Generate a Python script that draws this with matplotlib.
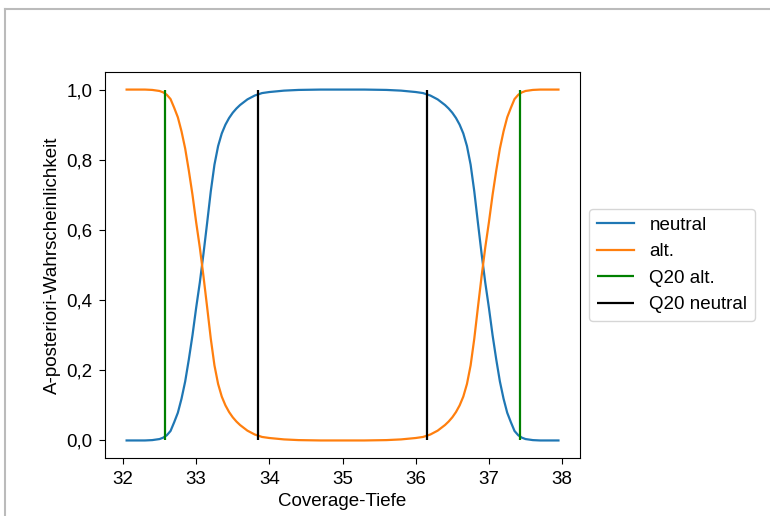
import matplotlib
matplotlib.use("Agg")
import matplotlib.pyplot as plt
from matplotlib.lines import Line2D

plt.rcParams['font.family'] = ['Liberation Sans', 'DejaVu Sans']

# coverage depth grid and posterior values
depth = [32.05, 32.2, 32.3, 32.4, 32.5, 32.55, 32.6, 32.65, 32.7, 32.75,
         32.8, 32.85, 32.9, 32.95, 33.0, 33.05, 33.1, 33.15, 33.2, 33.25,
         33.3, 33.35, 33.4, 33.45, 33.5, 33.55, 33.6, 33.7, 33.8, 33.9,
         34.0, 34.2, 34.4, 34.7, 35.0, 35.3, 35.6, 35.8, 36.0, 36.1,
         36.2, 36.3, 36.4, 36.45, 36.5, 36.55, 36.6, 36.65, 36.7, 36.75,
         36.8, 36.85, 36.9, 36.95, 37.0, 37.05, 37.1, 37.15, 37.2, 37.25,
         37.3, 37.35, 37.4, 37.45, 37.5, 37.6, 37.7, 37.8, 37.95]

neutral = [0.000, 0.000, 0.000, 0.001, 0.004, 0.008, 0.015, 0.027, 0.052, 0.079,
           0.119, 0.168, 0.231, 0.300, 0.378, 0.450, 0.532, 0.620, 0.710, 0.786,
           0.839, 0.875, 0.900, 0.919, 0.934, 0.946, 0.956, 0.972, 0.983, 0.990,
           0.993, 0.997, 0.999, 1.000, 1.000, 1.000, 0.999, 0.997, 0.993, 0.990,
           0.983, 0.972, 0.956, 0.946, 0.934, 0.919, 0.900, 0.875, 0.839, 0.786,
           0.710, 0.620, 0.532, 0.450, 0.378, 0.300, 0.231, 0.168, 0.119, 0.079,
           0.052, 0.027, 0.015, 0.008, 0.004, 0.001, 0.000, 0.000, 0.000]

alt = [1.000, 1.000, 1.000, 0.999, 0.996, 0.992, 0.985, 0.973, 0.948, 0.921,
       0.881, 0.832, 0.769, 0.700, 0.622, 0.550, 0.468, 0.380, 0.290, 0.214,
       0.161, 0.125, 0.100, 0.081, 0.066, 0.054, 0.044, 0.028, 0.017, 0.010,
       0.007, 0.003, 0.001, 0.000, 0.000, 0.000, 0.001, 0.003, 0.007, 0.010,
       0.017, 0.028, 0.044, 0.054, 0.066, 0.081, 0.100, 0.125, 0.161, 0.214,
       0.290, 0.380, 0.468, 0.550, 0.622, 0.700, 0.769, 0.832, 0.881, 0.921,
       0.948, 0.973, 0.985, 0.992, 0.996, 0.999, 1.000, 1.000, 1.000]

q20_alt = [32.57, 37.43]
q20_neutral = [33.85, 36.15]

ytick_vals = [0.0, 0.2, 0.4, 0.6, 0.8, 1.0]
ytick_labels = ["0,0", "0,2", "0,4", "0,6", "0,8", "1,0"]

fig = plt.figure(figsize=(7.7, 5.16), dpi=100)
ax = fig.add_axes([0.1364, 0.1124, 0.6169, 0.748])

ax.plot(depth, neutral, color="#1f77b4", lw=1.6, label="neutral")
ax.plot(depth, alt, color="#ff7f0e", lw=1.6, label="alt.")
ax.vlines(q20_alt, 0, 1, color="green", lw=1.6, label="Q20 alt.")
ax.vlines(q20_neutral, 0, 1, color="black", lw=1.6, label="Q20 neutral")

ax.set_xlim(31.755, 38.245)
ax.set_ylim(-0.05, 1.05)
ax.set_yticks(ytick_vals)
ax.set_yticklabels(ytick_labels)
ax.tick_params(labelsize=13.5, length=4.5, pad=4.5)
ax.set_xlabel("Coverage-Tiefe", fontsize=13.5)
ax.set_ylabel("A-posteriori-Wahrscheinlichkeit", fontsize=13.5)

ax.legend(loc="center left", bbox_to_anchor=(1.0, 0.5), fontsize=13.5)

# light grey frame of the screenshot (top and left edges)
fig.add_artist(Line2D([0.006, 1.0], [0.983, 0.983], transform=fig.transFigure,
                      color="#bbbbbb", lw=1.5))
fig.add_artist(Line2D([0.007, 0.007], [0.0, 0.983], transform=fig.transFigure,
                      color="#bbbbbb", lw=1.5))

fig.savefig("out.png", dpi=100)
